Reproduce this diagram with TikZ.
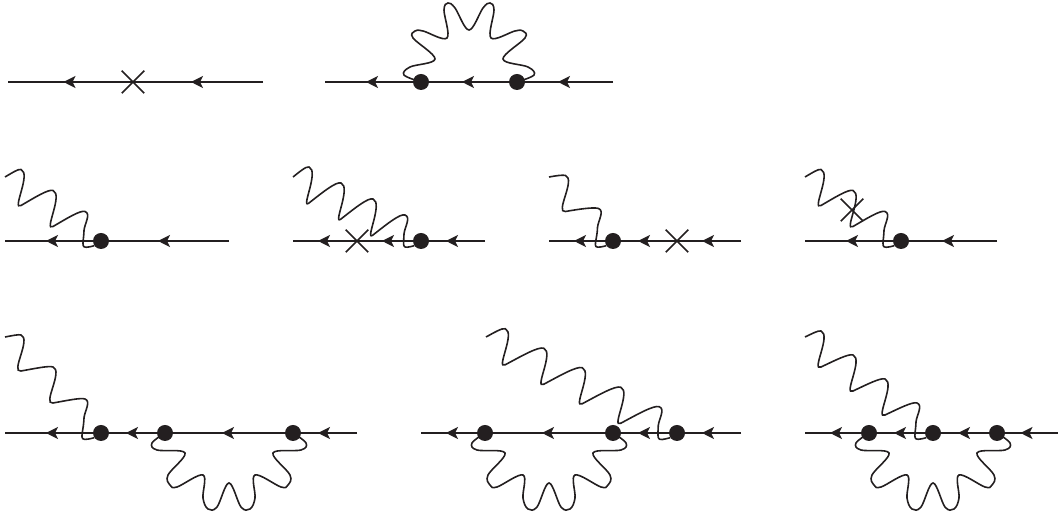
\documentclass[tikz,border=0pt]{standalone}
\usepackage{tikz}
\usetikzlibrary{arrows.meta,decorations.markings,shapes.misc}
\definecolor{ink}{HTML}{231F20}
\tikzset{
  vtx/.style={circle,fill=ink,inner sep=0pt,minimum size=16pt},
  xmark/.style={cross out,draw=ink,line width=1.5pt,inner sep=0pt,minimum size=21pt},
  fermion/.style={draw=ink,line width=1.9pt,postaction={decorate},
    decoration={markings,mark=at position .5 with {\pgftransformxshift{7pt}\arrow{Stealth[length=12pt,width=12pt,inset=3pt]}}}},
  photon/.style={draw=ink,line width=1.6pt},
}
\newcommand{\loopup}[2]{\draw[photon,shift={(#1)}] plot[smooth,tension=.6] coordinates {(#1) (-17,7) (-11,15) (14,23) (-8,44) (-6,51) (2,51) (26,44) (23,72) (27,79) (34,74) (48,52) (62,74) (69,79) (73,72) (70,44) (94,51) (102,51) (104,44) (82,23) (107,15) (113,7) (#2)};}
\newcommand{\loopdown}[2]{\draw[photon,shift={(#1)}] plot[smooth,tension=.6] coordinates {(#1) (-13,-10) (-8,-17) (20,-20) (3,-42) (5,-52) (12,-54) (38,-42) (38,-65) (43,-76) (52,-74) (64,-50) (76,-74) (85,-76) (90,-65) (90,-42) (116,-54) (123,-52) (125,-42) (108,-20) (136,-17) (141,-10) (#2)};}
\begin{document}
\begin{tikzpicture}[x=1pt,y=1pt]
\useasboundingbox (0,0) rectangle (1058,518);
% row 1
\coordinate (a0) at (263,436);\coordinate (a1) at (8,436);\node[xmark] (ax) at (133,436) {};
\coordinate (b0) at (613,436);\coordinate (b1) at (325,436);
\node[vtx] (bu) at (517,436) {};\node[vtx] (bv) at (421,436) {};
% row 2
\coordinate (c0) at (229,277);\coordinate (c1) at (5,277);\node[vtx] (cv) at (101,277) {};
\coordinate (d0) at (485,277);\coordinate (d1) at (293,277);\node[vtx] (dv) at (421,277) {};\node[xmark] (dx) at (357,277) {};
\coordinate (e0) at (741,277);\coordinate (e1) at (549,277);\node[vtx] (ev) at (613,277) {};\node[xmark] (ex) at (677,277) {};
\coordinate (f0) at (997,277);\coordinate (f1) at (805,277);\node[vtx] (fv) at (901,277) {};\node[xmark] (fx) at (852,308) {};
% row 3
\coordinate (g0) at (357,85);\coordinate (g1) at (5,85);
\node[vtx] (gu) at (293,85) {};\node[vtx] (gw) at (165,85) {};\node[vtx] (gv) at (101,85) {};
\coordinate (h0) at (741,85);\coordinate (h1) at (421,85);
\node[vtx] (hv) at (677,85) {};\node[vtx] (hu) at (613,85) {};\node[vtx] (hw) at (485,85) {};
\coordinate (i0) at (1058,85);\coordinate (i1) at (805,85);
\node[vtx] (iu) at (997,85) {};\node[vtx] (iv) at (933,85) {};\node[vtx] (iw) at (869,85) {};
% photon free ends
\coordinate (cs) at (5,341);\coordinate (ds) at (293,341);\coordinate (es) at (549,341);\coordinate (fs) at (805,341);
\coordinate (gs) at (5,181);\coordinate (hs) at (486,181);\coordinate (is) at (805,181);
\foreach \st/\en in {a0/ax,ax/a1,b0/bu,bu/bv,bv/b1,c0/cv,cv/c1,d0/dv,dv/dx,dx/d1,e0/ex,ex/ev,ev/e1,f0/fv,fv/f1,
  g0/gu,gu/gw,gw/gv,gv/g1,h0/hv,hv/hu,hu/hw,hw/h1,i0/iu,iu/iv,iv/iw,iw/i1}{\draw[fermion] (\st.center)--(\en.center);}
\foreach \st/\vx/\nw/\px/\py/\ang in {cs/cv/2/32/21/30,ds/dv/3/32/16/38,es/ev/1/33/33/10,fs/fv/2/32/21/30,
  gs/gv/2/32/32/10,hs/hv/4/38.5/19.5/28,is/iv/3/32/24/25}{
  \pgfmathsetmacro{\bck}{\ang+180}
  \draw[photon] (\st) to[out=\ang,in=160,out looseness=1,in looseness=.4] ++({\px/2},{(36-\py)/2})
  \foreach \k in {1,...,\nw}{ to[out=-20,in=\bck,out looseness=.8,in looseness=.8] ++(0,-36)
    to[out=\ang,in=160,out looseness=1.1,in looseness=.35] ++(\px,36-\py) }
  to[out=-20,in=85,looseness=.9] ++(-1,-19) to[out=-92,in=195,looseness=2.2] (\vx.215);
}
\loopup{bv}{bu}
\loopdown{gw}{gu}\loopdown{hw}{hu}\loopdown{iw}{iu}
\end{tikzpicture}
\end{document}
